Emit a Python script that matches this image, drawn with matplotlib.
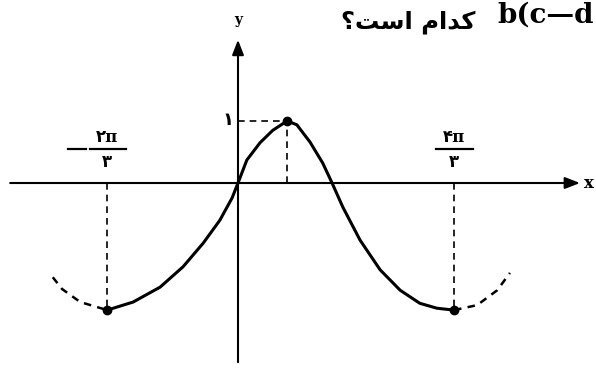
import matplotlib.pyplot as plt

# key points (x in units of the peak position, y in units of the peak height)
curve_x = [-2.67, -2.14, -1.59, -1.12, -0.71, -0.37, -0.12, 0.0, 0.18, 0.45, 0.71,
           1.0, 1.20, 1.47, 1.73, 1.92, 2.14, 2.49, 2.90, 3.31, 3.71, 4.06, 4.41]
curve_y = [-2.05, -1.92, -1.68, -1.35, -0.97, -0.60, -0.24, 0.0, 0.37, 0.65, 0.85,
           1.0, 0.94, 0.66, 0.32, 0.0, -0.39, -0.92, -1.40, -1.73, -1.94, -2.02, -2.05]
left_x = [-3.78, -3.59, -3.22, -2.67]
left_y = [-1.52, -1.71, -1.92, -2.05]
right_x = [4.41, 4.88, 5.29, 5.55]
right_y = [-2.05, -1.97, -1.73, -1.45]

peak = (1.0, 1.0)
minima_x = [-2.67, 4.41]
min_y = -2.05
min_labels = [("\u06F2\u03C0", "\u06F3", True), ("\u06F4\u03C0", "\u06F3", False)]

x_range = (-4.65, 6.98)
y_range = (-2.89, 2.31)

# persian question, shaped by hand (presentation forms, visual order)
question = "\u061F\uFE96\uFEB3\uFE8D \uFEE1\uFE8D\uFEAA\uFB90"

fig = plt.figure(figsize=(5.96, 3.68), dpi=100)
ax = fig.add_axes([0, 0, 1, 1])
ax.set_xlim(-4.857, 7.306)
ax.set_ylim(-2.984, 2.952)
ax.axis("off")

# axes with arrows
ax.annotate("", xy=(x_range[1], 0), xytext=(x_range[0], 0),
            arrowprops=dict(arrowstyle="-|>,head_length=0.9,head_width=0.35",
                            color="black", lw=1.5, shrinkA=0, shrinkB=0))
ax.annotate("", xy=(0, y_range[1]), xytext=(0, y_range[0]),
            arrowprops=dict(arrowstyle="-|>,head_length=0.9,head_width=0.35",
                            color="black", lw=1.5, shrinkA=0, shrinkB=0))
ax.text(x_range[1] + 0.08, 0, "x", fontsize=12, family="DejaVu Serif",
        fontweight="bold", ha="left", va="center")
ax.text(0, y_range[1] + 0.2, "y", fontsize=10, family="DejaVu Serif",
        fontweight="bold", ha="center", va="bottom")

# curve
ax.plot(curve_x, curve_y, color="black", lw=2.2, solid_capstyle="round",
        solid_joinstyle="round")
ax.plot(left_x, left_y, color="black", lw=1.8, dashes=(3, 2.5))
ax.plot(right_x, right_y, color="black", lw=1.8, dashes=(3, 2.5))

# guides
ax.plot([0, peak[0]], [peak[1], peak[1]], color="black", lw=1.2, dashes=(4, 3))
ax.plot([peak[0], peak[0]], [0, peak[1]], color="black", lw=1.2, dashes=(4, 3))
for mx in minima_x:
    ax.plot([mx, mx], [0, min_y], color="black", lw=1.2, dashes=(4, 3))

ax.plot([peak[0]] + minima_x, [peak[1], min_y, min_y], "o", color="black",
        markersize=6)

# labels
ax.text(-0.2, 1.02, "\u06F1", fontsize=13, fontweight="bold",
        family="DejaVu Sans", ha="center", va="center")
for mx, (num, den, neg) in zip(minima_x, min_labels):
    ax.text(mx, 0.6, num, fontsize=12, fontweight="bold",
            family=["DejaVu Serif", "DejaVu Sans"], ha="center", va="bottom")
    ax.plot([mx - 0.36, mx + 0.38], [0.55, 0.55], color="black", lw=1.6)
    ax.text(mx, 0.48, den, fontsize=12, fontweight="bold",
            family="DejaVu Sans", ha="center", va="top")
    if neg:
        ax.plot([mx - 0.8, mx - 0.43], [0.55, 0.55], color="black", lw=1.6)

# question text cut off at the right edge
ax.text(4.84, 2.6, question, fontsize=17.5, fontweight="bold",
        family="DejaVu Sans", ha="right", va="center")
ax.text(5.29, 2.7, "b(c\u2014d", fontsize=20, fontweight="bold",
        family="DejaVu Serif", ha="left", va="center", clip_on=False)

fig.savefig("out.png", dpi=100)
